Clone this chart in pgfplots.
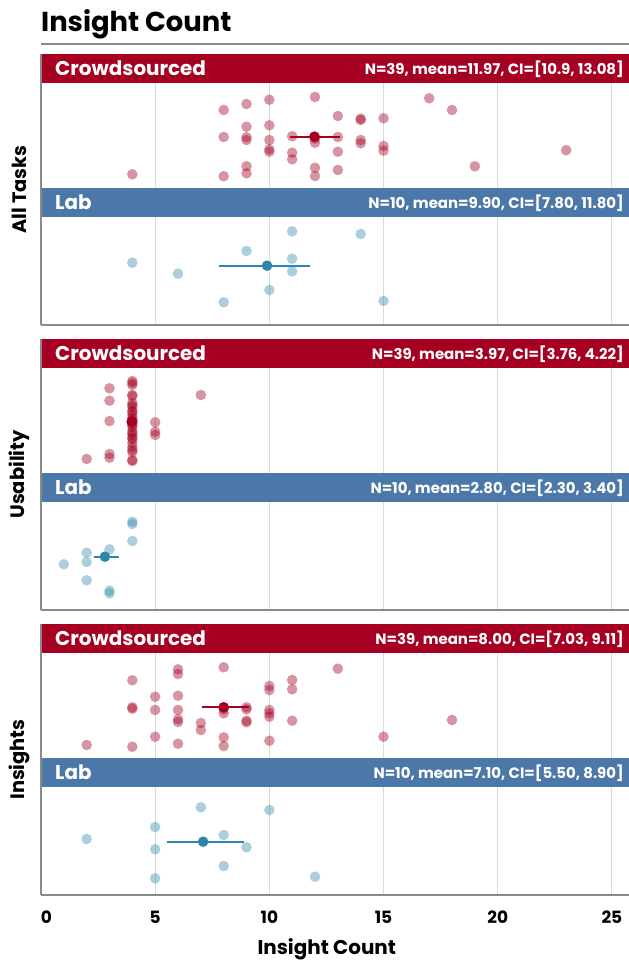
\documentclass[border=0pt]{standalone}
\usepackage{fontspec}
\setmainfont{Poppins}
\usepackage{pgfplots}
\usepackage{pgfplotstable}
\pgfplotsset{compat=1.18}

\definecolor{crowd}{HTML}{A50021}
\definecolor{labband}{HTML}{4B78A8}
\definecolor{labdot}{HTML}{2E87AA}
\definecolor{gridc}{HTML}{DADADA}
\definecolor{axisc}{HTML}{8A8A8A}

\newcommand\titlefont{\bfseries\fontsize{27.5}{32}\selectfont}
\newcommand\bandfont{\bfseries\fontsize{20}{24}\selectfont}
\newcommand\statfont{\bfseries\fontsize{15}{18}\selectfont}
\newcommand\facetfont{\bfseries\fontsize{19.5}{23}\selectfont}
\newcommand\xlabfont{\bfseries\fontsize{20}{24}\selectfont}
\newcommand\ticfont{\bfseries\fontsize{17}{20}\selectfont}

% x = insight count, y = vertical jitter inside the panel (0 = panel top)
\pgfplotstableread{
x y
4 -120.3
8 -56
8 -83
8 -122.3
9 -50
9 -72.7
9 -83.3
9 -86
9 -112.3
9 -119.3
10 -45.7
10 -71.3
10 -86
10 -95.3
10 -97.7
11 -82.3
11 -98.7
11 -105.3
12 -43
12 -88.7
12 -113.7
12 -122
12 -82.7
12 -84.7
13 -62
13 -83
13 -97.7
13 -116
14 -64.7
14 -66
14 -86
14 -89.3
15 -64.3
15 -92
15 -96.7
17 -44.3
18 -56
19 -112.3
23 -96.3
}\crowdAll

\pgfplotstableread{
x y
4 -208.7
6 -219.7
8 -248.3
9 -197
10 -236
11 -177.3
11 -204.7
11 -217.3
14 -180
15 -247
}\labAll

\pgfplotstableread{
x y
2 -120
3 -49.3
3 -61.7
3 -82
3 -115
3 -118.7
5 -83.3
5 -92.7
5 -96
7 -56
4 -42
4 -44
4 -46
4 -56
4 -57
4 -64
4 -66
4 -68
4 -72
4 -73
4 -76
4 -79
4 -81
4 -82
4 -83
4 -84
4 -86
4 -88
4 -92
4 -94
4 -96
4 -99
4 -100
4 -104
4 -108
4 -111
4 -113
4 -121
4 -122
}\crowdUse

\pgfplotstableread{
x y
1 -225.3
2 -213.7
2 -223
2 -241.3
3 -210.3
3 -251.7
3 -254.3
4 -182.7
4 -185
4 -202
}\labUse

\pgfplotstableread{
x y
2 -121
4 -56.3
4 -83.3
4 -84.7
4 -122.7
5 -72.7
5 -86
5 -112.7
6 -45.3
6 -50
6 -71.7
6 -86
6 -95.3
6 -98
6 -119.7
7 -99
7 -106
8 -43.3
8 -89.3
8 -113.3
8 -122
8 -83.3
8 -85.3
9 -83.3
9 -98.3
9 -85.3
9 -96.7
10 -62
10 -66
10 -86
10 -89.3
10 -92.7
10 -116.7
11 -56
11 -65.3
11 -96.7
13 -44.7
15 -112.7
18 -96
}\crowdIns

\pgfplotstableread{
x y
2 -215
5 -203
5 -225.3
5 -254.3
7 -183.3
8 -211
8 -242
9 -223.3
10 -186
12 -252.7
}\labIns

\pgfplotsset{
  panel/.style={
    scale only axis, width=588bp, height=271bp,
    anchor=north west,
    xmin=0, xmax=25.75, ymin=-271, ymax=0,
    axis x line*=bottom, axis y line*=left,
    axis line style={axisc, line width=1.4bp},
    xtick={0,5,...,25}, ytick=\empty,
    major tick length=0pt,
    xmajorgrids, major grid style={gridc, line width=1.2bp},
    /pgf/number format/assume math mode=true,
    xticklabel style={font=\ticfont, anchor=base, yshift=-28bp, inner sep=0pt},
    clip=false,
  },
  crowddots/.style={only marks, color=crowd, mark=*, mark size=5.3bp,
    mark options={fill=crowd, draw opacity=0, fill opacity=0.42}},
  labdots/.style={only marks, color=labdot, mark=*, mark size=5.3bp,
    mark options={fill=labdot, draw opacity=0, fill opacity=0.4}},
  crowdci/.style={no marks, crowd, line width=2bp},
  labci/.style={no marks, labdot, line width=2bp},
  crowdmean/.style={only marks, color=crowd, mark=*, mark size=5.3bp,
    mark options={fill=crowd, draw opacity=0}},
  labmean/.style={only marks, color=labdot, mark=*, mark size=5.3bp,
    mark options={fill=labdot, draw opacity=0}},
}

% header bands of one panel: group name and summary statistics
\newcommand\bands[2]{%
  \fill[crowd] ([xshift=0.7bp]axis cs:0,0) rectangle (axis cs:25.75,-29);
  \fill[labband] ([xshift=0.7bp]axis cs:0,-134) rectangle (axis cs:25.75,-163);
  \node[anchor=base west, inner sep=0pt, text=white, font=\bandfont]
    at ([xshift=14bp]axis cs:0,-22) {Crowdsourced};
  \node[anchor=base east, inner sep=0pt, text=white, font=\statfont]
    at ([xshift=-5bp]axis cs:25.75,-20.5) {#1};
  \node[anchor=base west, inner sep=0pt, text=white, font=\bandfont]
    at ([xshift=14bp]axis cs:0,-156) {Lab};
  \node[anchor=base east, inner sep=0pt, text=white, font=\statfont]
    at ([xshift=-5bp]axis cs:25.75,-154.5) {#2};
}

\begin{document}
\begin{tikzpicture}
\path[use as bounding box] (0,0) rectangle (629bp,961bp);

% chart title
\node[anchor=base west, inner sep=0pt, font=\titlefont] at (41bp,929bp) {Insight Count};
\draw[axisc, line width=1.8bp] (41bp,917bp) -- (629bp,917bp);

% ---------- All Tasks ----------
\begin{axis}[panel, at={(41bp,907bp)}, xticklabels={,,,,,}]
  \bands{N=39, mean=11.97, CI=[10.9, 13.08]}{N=10, mean=9.90, CI=[7.80, 11.80]}
  \addplot[crowddots] table {\crowdAll};
  \addplot[crowdci] coordinates {(10.9,-82.7) (13.08,-82.7)};
  \addplot[crowdmean] coordinates {(11.97,-82.7)};
  \addplot[labdots] table {\labAll};
  \addplot[labci] coordinates {(7.8,-211.7) (11.8,-211.7)};
  \addplot[labmean] coordinates {(9.9,-211.7)};
  \node[rotate=90, font=\facetfont] at ([xshift=-22bp]axis description cs:0,0.5) {All Tasks};
\end{axis}

% ---------- Usability ----------
\begin{axis}[panel, at={(41bp,622bp)}, xticklabels={,,,,,}]
  \bands{N=39, mean=3.97, CI=[3.76, 4.22]}{N=10, mean=2.80, CI=[2.30, 3.40]}
  \addplot[crowddots] table {\crowdUse};
  \addplot[crowdci] coordinates {(3.76,-82.7) (4.22,-82.7)};
  \addplot[crowdmean] coordinates {(3.97,-82.7)};
  \addplot[labdots] table {\labUse};
  \addplot[labci] coordinates {(2.3,-217.7) (3.4,-217.7)};
  \addplot[labmean] coordinates {(2.8,-217.7)};
  \node[rotate=90, font=\facetfont] at ([xshift=-22bp]axis description cs:0,0.5) {Usability};
\end{axis}

% ---------- Insights ----------
\begin{axis}[panel, at={(41bp,337bp)},
    xticklabels={\rlap{0},5,10,15,20,25}]
  \bands{N=39, mean=8.00, CI=[7.03, 9.11]}{N=10, mean=7.10, CI=[5.50, 8.90]}
  \addplot[crowddots] table {\crowdIns};
  \addplot[crowdci] coordinates {(7.03,-83.3) (9.11,-83.3)};
  \addplot[crowdmean] coordinates {(8.0,-83.3)};
  \addplot[labdots] table {\labIns};
  \addplot[labci] coordinates {(5.5,-217.7) (8.9,-217.7)};
  \addplot[labmean] coordinates {(7.1,-217.7)};
  \node[rotate=90, font=\facetfont] at ([xshift=-22bp]axis description cs:0,0.5) {Insights};
  \node[anchor=base, inner sep=0pt, font=\xlabfont]
    at ([yshift=-59.5bp]axis description cs:0.486,0) {Insight Count};
\end{axis}
\end{tikzpicture}
\end{document}
